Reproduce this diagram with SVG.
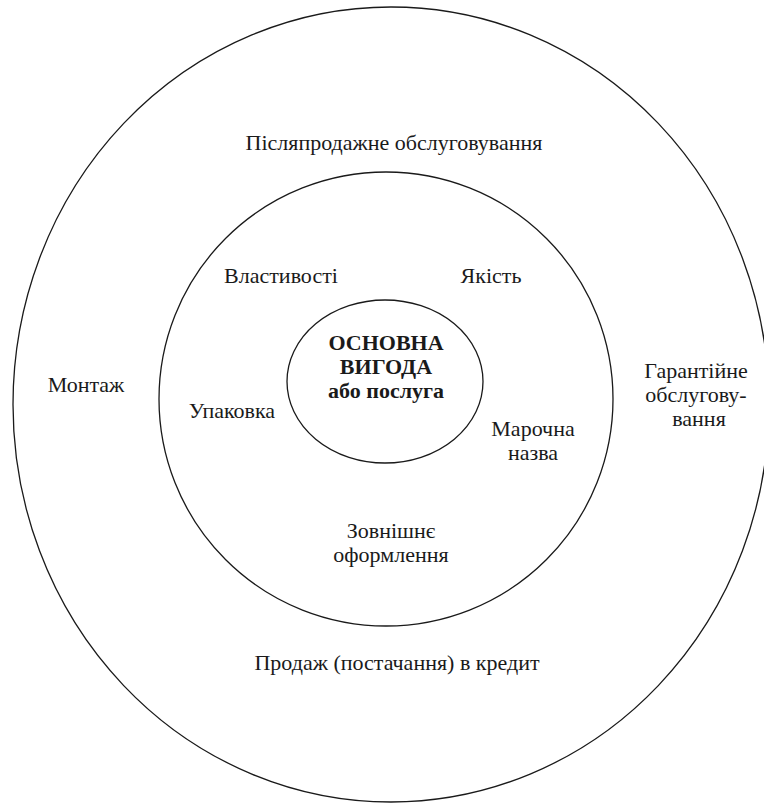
<svg xmlns="http://www.w3.org/2000/svg" width="764" height="803" viewBox="0 0 764 803">
  <style>
    .ring { fill: none; stroke: #1a1a1a; stroke-width: 1.3; }
    .lbl { font-family: "Liberation Serif", "Times New Roman", serif; font-size: 22px; fill: #1a1a1a; text-anchor: middle; }
    .core { font-weight: bold; }
  </style>
  <rect x="0" y="0" width="764" height="803" fill="#ffffff"/>
  <g id="outer-ring">
    <ellipse class="ring" cx="391" cy="404.5" rx="378" ry="397.5"/>
    <text class="lbl" x="394" y="150">Післяпродажне обслуговування</text>
    <text class="lbl" x="86" y="392">Монтаж</text>
    <text class="lbl" x="696" y="378">Гарантійне</text>
    <text class="lbl" x="696" y="402">обслугову-</text>
    <text class="lbl" x="699" y="426">вання</text>
    <text class="lbl" x="397" y="670">Продаж (постачання) в кредит</text>
  </g>
  <g id="middle-ring">
    <circle class="ring" cx="386" cy="399" r="227"/>
    <text class="lbl" x="281" y="283">Властивості</text>
    <text class="lbl" x="491" y="283">Якість</text>
    <text class="lbl" x="232" y="418">Упаковка</text>
    <text class="lbl" x="533" y="436">Марочна</text>
    <text class="lbl" x="533" y="460">назва</text>
    <text class="lbl" x="391" y="538">Зовнішнє</text>
    <text class="lbl" x="391" y="562">оформлення</text>
  </g>
  <g id="core">
    <ellipse class="ring" cx="385" cy="381.5" rx="98" ry="81.5"/>
    <text class="lbl core" x="386" y="350">ОСНОВНА</text>
    <text class="lbl core" x="386" y="374">ВИГОДА</text>
    <text class="lbl core" x="386" y="398">або послуга</text>
  </g>
</svg>
